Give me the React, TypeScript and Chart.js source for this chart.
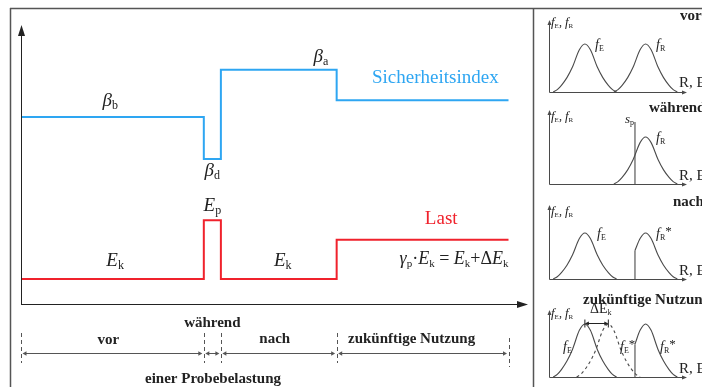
import React, { useEffect, useRef } from "react";
import { Chart, registerables } from "chart.js";
Chart.register(...registerables);

// ---------- main diagram data ----------
const phaseLabels = ["vor", "während", "nach", "zukünftige Nutzung"];
const phaseBounds = [0, 37.5, 41, 64.75, 100]; // time axis (relative units)
const sicherheitsindex = [67, 52, 84, 73, 73]; // beta_b, beta_d, beta_a, beta after
const last = [9, 30, 9, 23, 23]; // E_k, E_p, E_k, gamma_p*E_k

// ---------- small density panels data ----------
const fE_x = [3, 6, 9, 13, 17, 22, 26, 30, 35, 39, 43, 46, 49];
const fE_y = [0, 0.05, 0.14, 0.3, 0.52, 0.88, 1, 0.88, 0.52, 0.3, 0.14, 0.05, 0];
const fR_x = [47, 50, 53, 57, 61, 66, 70, 74, 79, 83, 87, 90, 93];
const fR_y = [0, 0.05, 0.14, 0.3, 0.52, 0.88, 1, 0.88, 0.52, 0.3, 0.14, 0.05, 0];
const fEstar_x = [20, 23, 26, 30, 34, 39, 43, 47, 52, 56, 60, 63, 66];
const fEstar_y = [0, 0.05, 0.14, 0.3, 0.52, 0.88, 1, 0.88, 0.52, 0.3, 0.14, 0.05, 0];
const fRstar_x = [62.3, 66, 70, 74, 79, 83, 87, 90, 93];
const fRstar_y = [0.62, 0.88, 1, 0.88, 0.52, 0.3, 0.14, 0.05, 0];
const sp_x = 62.3;
const sp_top = 1.32;

const BLUE = "#2ea6f2";
const RED = "#f0222c";
const SERIF = '"Liberation Serif", "Times New Roman", serif';
const it = (s: number) => `italic ${s}px ${SERIF}`;
const rm = (s: number) => `${s}px ${SERIF}`;
const bd = (s: number) => `bold ${s}px ${SERIF}`;

type Part = { t: string; f: string; dy?: number };

function drawRich(ctx: CanvasRenderingContext2D, x: number, y: number, parts: Part[], align: string, color: string) {
  ctx.save();
  ctx.fillStyle = color;
  ctx.textBaseline = "alphabetic";
  ctx.textAlign = "left";
  let w = 0;
  for (const p of parts) { ctx.font = p.f; w += ctx.measureText(p.t).width; }
  let cx = align === "left" ? x : align === "center" ? x - w / 2 : x - w;
  for (const p of parts) {
    ctx.font = p.f;
    ctx.fillText(p.t, cx, y + (p.dy || 0));
    cx += ctx.measureText(p.t).width;
  }
  ctx.restore();
}

function line(ctx: CanvasRenderingContext2D, x1: number, y1: number, x2: number, y2: number) {
  ctx.beginPath(); ctx.moveTo(x1, y1); ctx.lineTo(x2, y2); ctx.stroke();
}

function head(ctx: CanvasRenderingContext2D, x: number, y: number, dir: string, len: number, hw: number) {
  ctx.beginPath();
  if (dir === "up") { ctx.moveTo(x, y); ctx.lineTo(x - hw, y + len); ctx.lineTo(x + hw, y + len); }
  else if (dir === "right") { ctx.moveTo(x, y); ctx.lineTo(x - len, y - hw); ctx.lineTo(x - len, y + hw); }
  else { ctx.moveTo(x, y); ctx.lineTo(x + len, y - hw); ctx.lineTo(x + len, y + hw); }
  ctx.closePath(); ctx.fill();
}

const sub = (base: string, s: string, size = 19, subSize = 12, italic = true): Part[] => [
  { t: base, f: italic ? it(size) : rm(size) },
  { t: s, f: rm(subSize), dy: 3 },
];

const mainPlugin = {
  id: "mainDecor",
  afterDraw(chart: any) {
    const ctx: CanvasRenderingContext2D = chart.ctx;
    const X = (v: number) => chart.scales.x.getPixelForValue(v);
    const Y = (v: number) => chart.scales.y.getPixelForValue(v);
    ctx.save();
    // frame
    ctx.strokeStyle = "#555"; ctx.lineWidth = 1.5;
    line(ctx, 10.5, 8, 10.5, 387);
    line(ctx, 10, 8.5, 702, 8.5);
    line(ctx, 533.5, 8, 533.5, 387);
    // axes
    const x0 = X(0), y0 = Y(0);
    ctx.strokeStyle = "#222"; ctx.fillStyle = "#222"; ctx.lineWidth = 1;
    line(ctx, x0 + 0.5, y0, x0 + 0.5, Y(100) + 8);
    head(ctx, x0 + 0.5, Y(100), "up", 11, 3.5);
    line(ctx, x0, y0 + 0.5, X(104) - 8, y0 + 0.5);
    head(ctx, X(104), y0 + 0.5, "right", 11, 3.5);

    // labels for the curves
    const k = 18;
    drawRich(ctx, X(18.3), Y(71), sub("β", "b"), "center", "#222");
    drawRich(ctx, X(39.25), Y(46), sub("β", "d"), "center", "#222");
    drawRich(ctx, X(61.5), Y(86.7), sub("β", "a"), "center", "#222");
    drawRich(ctx, X(72), Y(79.2), [{ t: "Sicherheitsindex", f: rm(19) }], "left", BLUE);
    drawRich(ctx, X(39.25), Y(33.3), sub("E", "p"), "center", "#222");
    drawRich(ctx, X(19.3), Y(13.6), sub("E", "k"), "center", "#222");
    drawRich(ctx, X(53.7), Y(13.6), sub("E", "k"), "center", "#222");
    drawRich(ctx, X(86.2), Y(28.7), [{ t: "Last", f: rm(19) }], "center", RED);
    drawRich(ctx, X(100), Y(14.3), [
      { t: "γ", f: it(k) }, { t: "p", f: rm(11), dy: 3 }, { t: "·", f: rm(k) },
      { t: "E", f: it(k) }, { t: "k", f: rm(11), dy: 3 }, { t: " = ", f: rm(k) },
      { t: "E", f: it(k) }, { t: "k", f: rm(11), dy: 3 }, { t: "+Δ", f: rm(k) },
      { t: "E", f: it(k) }, { t: "k", f: rm(11), dy: 3 },
    ], "right", "#222");

    // timeline
    ctx.strokeStyle = "#555"; ctx.fillStyle = "#555"; ctx.lineWidth = 1;
    ctx.setLineDash([4, 3]);
    phaseBounds.forEach((b, i) => {
      const px = Math.round(X(b)) + 0.5;
      if (i === phaseBounds.length - 1) line(ctx, px, 338, px, 367);
      else line(ctx, px, 333, px, 363);
    });
    ctx.setLineDash([]);
    const ay = 353.5;
    for (let i = 0; i < phaseBounds.length - 1; i++) {
      const a = X(phaseBounds[i]) + 1.5, b = X(phaseBounds[i + 1]) - 1.5;
      line(ctx, a + 3, ay, b - 3, ay);
      head(ctx, a, ay, "left", 4, 2.2);
      head(ctx, b, ay, "right", 4, 2.2);
    }
    const dxs = [-4, 0, -4, -11];
    const ys = [344, 327, 343, 343];
    phaseLabels.forEach((lab, i) => {
      const mid = (X(phaseBounds[i]) + X(phaseBounds[i + 1])) / 2 + dxs[i];
      drawRich(ctx, mid, ys[i], [{ t: lab, f: bd(15) }], "center", "#222");
    });
    drawRich(ctx, 213, 383, [{ t: "einer Probebelastung", f: bd(15) }], "center", "#222");
    ctx.restore();
  },
};

function MainChart() {
  const ref = useRef<HTMLCanvasElement>(null);
  useEffect(() => {
    const pts = (ys: number[]) => phaseBounds.map((x, i) => ({ x, y: ys[i] }));
    const chart = new Chart(ref.current!, {
      type: "line",
      data: {
        datasets: [
          { label: "Sicherheitsindex", data: pts(sicherheitsindex), stepped: true, borderColor: BLUE, borderWidth: 2, pointRadius: 0, fill: false },
          { label: "Last", data: pts(last), stepped: true, borderColor: RED, borderWidth: 2, pointRadius: 0, fill: false },
        ],
      },
      options: {
        responsive: false,
        animation: false,
        events: [],
        layout: { padding: { left: 21, top: 25, right: 174, bottom: 83 } },
        scales: {
          x: { type: "linear", min: 0, max: 104, display: false },
          y: { min: 0, max: 100, display: false },
        },
        plugins: { legend: { display: false }, tooltip: { enabled: false } },
      },
      plugins: [mainPlugin],
    } as any);
    return () => chart.destroy();
  }, []);
  return <canvas ref={ref} width={702} height={387} style={{ position: "absolute", left: 0, top: 0 }} />;
}

// ---------- panels ----------
const fLab = (s: string, star = false): Part[] => {
  const p: Part[] = [{ t: "f", f: it(14) }, { t: s, f: rm(8), dy: 2 }];
  if (star) p.push({ t: "*", f: rm(13), dy: -3 });
  return p;
};
const axisLab: Part[] = [
  { t: "f", f: it(13) }, { t: "E", f: rm(7), dy: 2 }, { t: ", ", f: rm(12) },
  { t: "f", f: it(13) }, { t: "R", f: rm(7), dy: 2 },
];

type Curve = { x: number[]; y: number[]; dash?: boolean; cut?: boolean };
type Panel = {
  top: number; height: number; axisTop: number; axisY: number; peakY: number;
  title: string; titleX: number; titleY: number; axisLabY: number; reY: number;
  curves: Curve[]; labels: { x: number; y: number; parts: Part[] }[]; sp?: boolean; delta?: boolean;
};

const panels: Panel[] = [
  {
    top: 9, height: 92, axisTop: 20, axisY: 92, peakY: 44, title: "vor", titleX: 680, titleY: 20, axisLabY: 26, reY: 87,
    curves: [{ x: fE_x, y: fE_y }, { x: fR_x, y: fR_y }],
    labels: [{ x: 595, y: 49, parts: fLab("E") }, { x: 656, y: 49, parts: fLab("R") }],
  },
  {
    top: 101, height: 91, axisTop: 110, axisY: 184, peakY: 137, title: "während", titleX: 649, titleY: 112, axisLabY: 120, reY: 180,
    curves: [{ x: fR_x, y: fR_y }], sp: true,
    labels: [{ x: 625, y: 123, parts: [{ t: "s", f: it(13) }, { t: "p", f: rm(8), dy: 2 }] }, { x: 656, y: 142, parts: fLab("R") }],
  },
  {
    top: 192, height: 96, axisTop: 205, axisY: 279, peakY: 233, title: "nach", titleX: 673, titleY: 206, axisLabY: 215, reY: 275,
    curves: [{ x: fE_x, y: fE_y }, { x: fRstar_x, y: fRstar_y, cut: true }],
    labels: [{ x: 597, y: 238, parts: fLab("E") }, { x: 656, y: 238, parts: fLab("R", true) }],
  },
  {
    top: 288, height: 99, axisTop: 310, axisY: 377, peakY: 324, title: "zukünftige Nutzung", titleX: 583, titleY: 304, axisLabY: 317, reY: 373,
    curves: [{ x: fE_x, y: fE_y }, { x: fEstar_x, y: fEstar_y, dash: true }, { x: fRstar_x, y: fRstar_y, cut: true }], delta: true,
    labels: [{ x: 563, y: 351, parts: fLab("E") }, { x: 620, y: 351, parts: fLab("E", true) }, { x: 660, y: 351, parts: fLab("R", true) }],
  },
];

const PANEL_LEFT = 537;
const PANEL_W = 165;

function PanelChart({ cfg }: { cfg: Panel }) {
  const ref = useRef<HTMLCanvasElement>(null);
  useEffect(() => {
    const gray = "#4a4a4a";
    const datasets: any[] = [];
    cfg.curves.forEach((c) => {
      datasets.push({
        data: c.x.map((x, i) => ({ x, y: c.y[i] })), borderColor: gray, borderWidth: 1.1, pointRadius: 0,
        cubicInterpolationMode: "monotone", borderDash: c.dash ? [3, 3] : [], fill: false,
      });
      if (c.cut) {
        datasets.push({ data: [{ x: c.x[0], y: 0 }, { x: c.x[0], y: c.y[0] }], borderColor: gray, borderWidth: 1.1, pointRadius: 0, tension: 0 });
      }
    });
    if (cfg.sp) {
      datasets.push({ data: [{ x: sp_x, y: 0 }, { x: sp_x, y: sp_top }], borderColor: gray, borderWidth: 1.1, pointRadius: 0, tension: 0 });
    }
    const yMax = (cfg.axisY - cfg.axisTop) / (cfg.axisY - cfg.peakY);
    const oy = cfg.top, ox = PANEL_LEFT;
    const plugin = {
      id: "panelDecor",
      afterDraw(chart: any) {
        const ctx: CanvasRenderingContext2D = chart.ctx;
        const X = (v: number) => chart.scales.x.getPixelForValue(v);
        const Y = (v: number) => chart.scales.y.getPixelForValue(v);
        ctx.save();
        ctx.strokeStyle = gray; ctx.fillStyle = gray; ctx.lineWidth = 1;
        const x0 = Math.round(X(0)) + 0.5, y0 = Math.round(Y(0)) + 0.5;
        line(ctx, x0, y0, x0, Y(yMax) + 4);
        head(ctx, x0, Y(yMax), "up", 5, 2);
        line(ctx, x0, y0, X(100) - 4, y0);
        head(ctx, X(100), y0, "right", 5, 2);
        if (cfg.delta) {
          const a = X(fE_x[6]), b = X(fEstar_x[6]), yy = Y(1) - 0.5;
          ctx.strokeStyle = "#222"; ctx.fillStyle = "#222";
          line(ctx, a, yy - 4, a, yy + 4);
          line(ctx, b, yy - 4, b, yy + 4);
          line(ctx, a + 3, yy, b - 3, yy);
          head(ctx, a, yy, "left", 4, 2);
          head(ctx, b, yy, "right", 4, 2);
          drawRich(ctx, 590 - ox, 313 - oy, [{ t: "ΔE", f: rm(14) }, { t: "k", f: rm(8), dy: 2 }], "left", "#222");
        }
        drawRich(ctx, 551 - ox, cfg.axisLabY - oy, axisLab, "left", "#222");
        drawRich(ctx, cfg.titleX - ox, cfg.titleY - oy, [{ t: cfg.title, f: bd(15) }], "left", "#222");
        drawRich(ctx, 679 - ox, cfg.reY - oy, [{ t: "R, E", f: rm(15) }], "left", "#222");
        cfg.labels.forEach((l) => drawRich(ctx, l.x - ox, l.y - oy, l.parts, "left", "#222"));
        ctx.restore();
      },
    };
    const chart = new Chart(ref.current!, {
      type: "line",
      data: { datasets },
      options: {
        responsive: false,
        animation: false,
        events: [],
        layout: { padding: { left: 549 - PANEL_LEFT, right: PANEL_LEFT + PANEL_W - 687, top: cfg.axisTop - cfg.top, bottom: cfg.top + cfg.height - cfg.axisY } },
        scales: {
          x: { type: "linear", min: 0, max: 100, display: false },
          y: { min: 0, max: yMax, display: false },
        },
        plugins: { legend: { display: false }, tooltip: { enabled: false } },
      },
      plugins: [plugin],
    } as any);
    return () => chart.destroy();
  }, [cfg]);
  return (
    <canvas ref={ref} width={PANEL_W} height={cfg.height}
      style={{ position: "absolute", left: PANEL_LEFT, top: cfg.top }} />
  );
}

export default function App() {
  return (
    <div style={{ position: "absolute", left: 0, top: 0, width: 702, height: 387, background: "#fff", overflow: "hidden" }}>
      <MainChart />
      {panels.map((p, i) => <PanelChart key={i} cfg={p} />)}
    </div>
  );
}
